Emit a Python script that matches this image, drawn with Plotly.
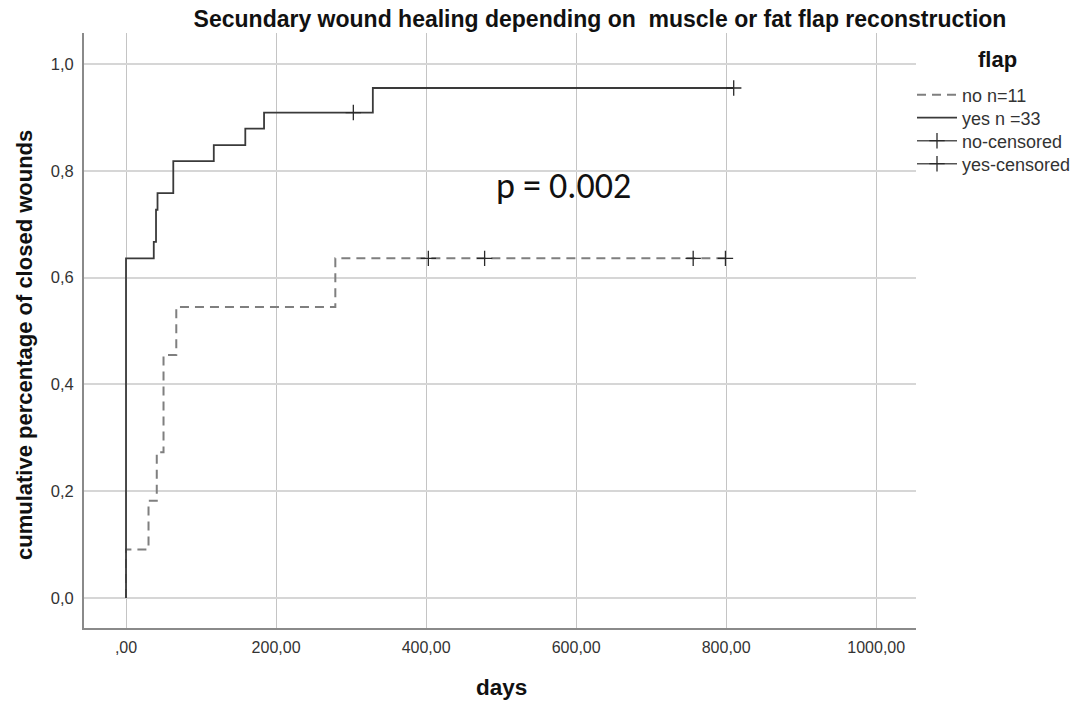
import plotly.graph_objects as go

# ---- data ----
no_days = [0, 0, 30, 41, 50, 67, 279, 800]
no_cum = [0.0, 0.091, 0.182, 0.273, 0.455, 0.545, 0.636, 0.636]
yes_days = [0, 0, 37, 40, 42, 63, 117, 159, 184, 329, 810]
yes_cum = [0.0, 0.636, 0.667, 0.727, 0.758, 0.818, 0.848, 0.879, 0.909, 0.955, 0.955]
no_cens_days = [403, 478, 756, 799]
no_cens_cum = [0.636, 0.636, 0.636, 0.636]
yes_cens_days = [303, 810]
yes_cens_cum = [0.909, 0.955]

x_tickvals = [0, 200, 400, 600, 800, 1000]
x_ticktext = [",00", "200,00", "400,00", "600,00", "800,00", "1000,00"]
y_tickvals = [0, 0.2, 0.4, 0.6, 0.8, 1.0]
y_ticktext = ["0,0", "0,2", "0,4", "0,6", "0,8", "1,0"]

names = ["no n=11", "yes n =33", "no-censored", "yes-censored"]


def gapped(vals):
    out = []
    for v in vals:
        out += [v, None]
    return out


REG = "Liberation Sans, Arial, sans-serif"

fig = go.Figure()
fig.add_trace(go.Scatter(
    x=no_days, y=no_cum, mode="lines", name=names[0], legend="legend",
    line=dict(shape="hv", color="#7f7f7f", width=2, dash="9px,6px"),
))
fig.add_trace(go.Scatter(
    x=yes_days, y=yes_cum, mode="lines", name=names[1], legend="legend2",
    line=dict(shape="hv", color="#3a3a3a", width=1.8),
))
fig.add_trace(go.Scatter(
    x=gapped(no_cens_days), y=gapped(no_cens_cum), mode="lines+markers",
    name=names[2], connectgaps=False, legend="legend3",
    line=dict(color="#555555", width=1.5),
    marker=dict(symbol="cross-thin", size=11, line=dict(color="#2a2a2a", width=1.3)),
))
fig.add_trace(go.Scatter(
    x=gapped(yes_cens_days), y=gapped(yes_cens_cum), mode="lines+markers",
    name=names[3], connectgaps=False, legend="legend4",
    line=dict(color="#555555", width=1.5),
    marker=dict(symbol="cross-thin", size=11, line=dict(color="#2a2a2a", width=1.3)),
))

fig.add_annotation(
    x=583, y=0.772, xref="x", yref="y", text="p = 0.002", showarrow=False,
    font=dict(family="Carlito, Lato, Open Sans, sans-serif", size=36, color="#111111"),
)
fig.add_annotation(
    x=-0.0721, y=0.4756, xref="paper", yref="paper",
    text="<b>cumulative percentage of closed wounds</b>", textangle=-90,
    showarrow=False, xanchor="center", yanchor="middle",
    font=dict(family=REG, size=22, color="#111111"),
)
fig.add_annotation(
    x=0.5024, y=-0.1008, xref="paper", yref="paper", text="<b>days</b>",
    showarrow=False, xanchor="center", yanchor="middle",
    font=dict(family=REG, size=22.5, color="#111111"),
)
fig.add_annotation(
    x=(997 - 84) / 832, y=(628 - 60) / 595, xref="paper", yref="paper",
    text="<b>flap</b>", showarrow=False, xanchor="center", yanchor="middle",
    font=dict(family=REG, size=22, color="#111111"),
)

legend_centers = [95, 118, 141, 164]
legend_common = dict(
    xref="container", yref="container", x=912 / 1077, xanchor="left",
    yanchor="middle", font=dict(family=REG, size=18, color="#333333"),
    bgcolor="rgba(0,0,0,0)", itemwidth=40, tracegroupgap=0,
)

fig.update_layout(
    width=1077, height=701,
    margin=dict(l=84, r=161, t=33, b=73, autoexpand=False),
    paper_bgcolor="white", plot_bgcolor="white",
    title=dict(
        text="<b>Secundary wound healing depending on  muscle or fat flap reconstruction</b>",
        x=600 / 1077, xanchor="center", xref="container",
        y=1 - 19 / 701, yanchor="middle", yref="container",
        font=dict(family=REG, size=23, color="#111111"),
    ),
    showlegend=True,
    legend=dict(y=1 - legend_centers[0] / 701, **legend_common),
    legend2=dict(y=1 - legend_centers[1] / 701, **legend_common),
    legend3=dict(y=1 - legend_centers[2] / 701, **legend_common),
    legend4=dict(y=1 - legend_centers[3] / 701, **legend_common),
    xaxis=dict(
        range=[-56, 1053], tickvals=x_tickvals, ticktext=x_ticktext,
        showgrid=True, gridcolor="#c4c4c4", gridwidth=1,
        showline=True, linecolor="#8a8a8a", linewidth=2, mirror=False,
        zeroline=False, ticks="", ticklabelstandoff=4,
        tickfont=dict(family=REG, size=16, color="#333333"),
    ),
    yaxis=dict(
        range=[-0.0562, 1.058], tickvals=y_tickvals, ticktext=y_ticktext,
        showgrid=True, gridcolor="#d6d6d6", gridwidth=2,
        showline=True, linecolor="#8a8a8a", linewidth=2, mirror=False,
        zeroline=False, ticks="", ticklabelstandoff=5,
        tickfont=dict(family=REG, size=16.5, color="#333333"),
    ),
)

fig.write_html("out.html")
